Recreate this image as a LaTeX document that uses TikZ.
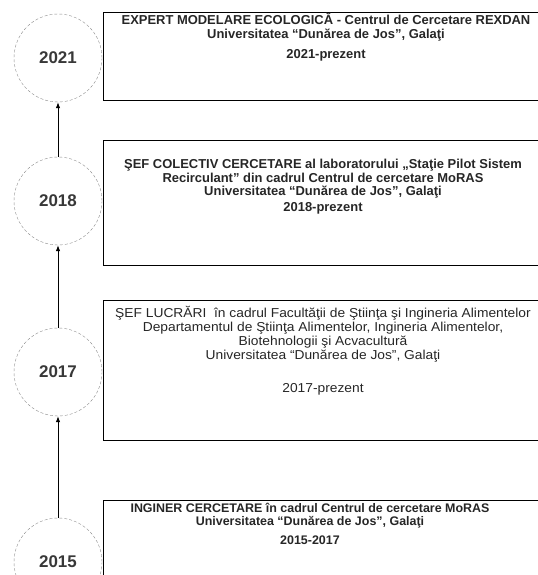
\documentclass[tikz,border=0pt]{standalone}
\usepackage{fontspec}
\setmainfont{Liberation Sans}
\usetikzlibrary{arrows.meta}

\begin{document}
\begin{tikzpicture}[x=1bp,y=1bp,
	an/.style={circle, draw=black!45, densely dashed, minimum size=88bp, inner sep=0pt, text=black!78, font=\bfseries\fontsize{17}{17}\selectfont},
	cutie/.style={draw, line width=0.9bp, minimum width=444bp, anchor=north west, inner sep=0pt},
	scris/.style={anchor=north, align=center, inner sep=0pt, text=black!85, font=\bfseries\fontsize{13}{14}\selectfont},
	sageata/.style={-{Latex[length=6bp,width=4.5bp]}, line width=0.8bp}]
			%%%%% START %%%%%
			\useasboundingbox (0,0) rectangle (538,-575);
			
			\node[an] (c2021) at (58,-58) {2021};
			\node[an] (c2018) at (58,-201) {2018};
			\node[an] (c2017) at (58,-372) {2017};
			\node[an] (c2015) at (58,-562) {2015};
			
			\draw[sageata] (c2015) -- (c2017);
			\draw[sageata] (c2017) -- (c2018);
			\draw[sageata] (c2018) -- (c2021);
			
			\node[cutie, minimum height=88bp] (b2021) at (103,-12) {};
			\node[cutie, minimum height=125bp] (b2018) at (103,-140) {};
			\node[cutie, minimum height=140bp] (b2017) at (103,-300) {};
			\node[cutie, minimum height=150bp] (b2015) at (103,-500) {};
			
			\node[scris] (t2021) at (326,-12.5) {EXPERT MODELARE ECOLOGICĂ - Centrul de Cercetare REXDAN\\
				Universitatea “Dunărea de Jos”, Galaţi\\[6bp]
				2021-prezent};
			\node[scris] (t2018) at (323,-158.5) {ŞEF COLECTIV CERCETARE al laboratorului „Staţie Pilot Sistem\\
				Recirculant” din cadrul Centrul de cercetare MoRAS\\
				Universitatea “Dunărea de Jos”, Galaţi\\[2bp]
				2018-prezent};
			\node[scris, font=\fontsize{13}{14}\selectfont\addfontfeature{FakeStretch=1.065}] (t2017) at (323,-306.5) {ŞEF LUCRĂRI\ \ în cadrul Facultăţii de Ştiinţa şi Ingineria Alimentelor\\
				Departamentul de Ştiinţa Alimentelor, Ingineria Alimentelor,\\
				Biotehnologii şi Acvacultură\\
				Universitatea “Dunărea de Jos”, Galaţi\\[19bp]
				2017-prezent};
			\node[scris, font=\bfseries\fontsize{12.5}{13.5}\selectfont] (t2015) at (310,-502.5) {INGINER CERCETARE în cadrul Centrul de cercetare MoRAS\\
				Universitatea “Dunărea de Jos”, Galaţi\\[6bp]
				2015-2017};
			%%%%% END %%%%%
\end{tikzpicture}
\end{document}
